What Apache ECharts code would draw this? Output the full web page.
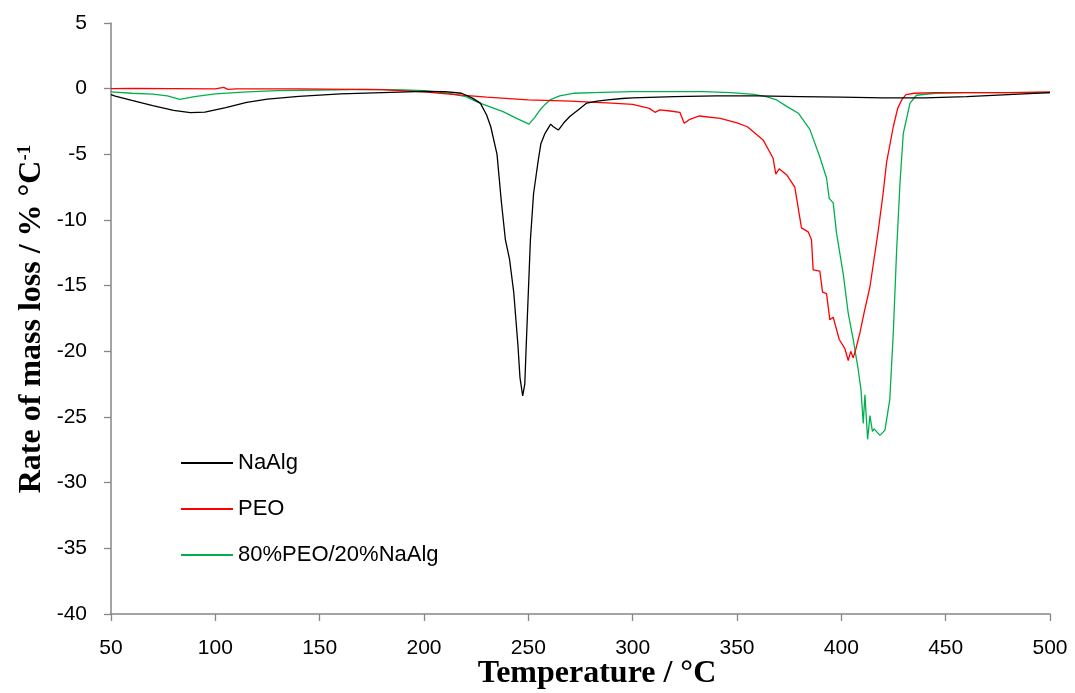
<!DOCTYPE html>
<html><head><meta charset="utf-8">
<script src="https://cdn.jsdelivr.net/npm/echarts@6/dist/echarts.min.js"></script>
<style>html,body{margin:0;padding:0;background:#fff}#c{width:1075px;height:693px}</style>
</head><body><div id="c"></div>
<script>
const seriesNames = ['NaAlg', 'PEO', '80%PEO/20%NaAlg'];
const xTicks = [50,100,150,200,250,300,350,400,450,500];
const yTicks = [5,0,-5,-10,-15,-20,-25,-30,-35,-40];

const naalgT = [50,52,60,70,80,88,95,105,115,125,140,160,180,200,210,218,223,227,230,232,235,237,239,241,243,245,246,247.3,248.3,249,250,251,252.5,254.8,256,258,260.7,262,264.4,267,270,274,278,283,288,295,300,320,340,360,380,400,420,440,460,480,500];
const naalgV = [-0.45,-0.56,-0.9,-1.3,-1.65,-1.83,-1.78,-1.45,-1.05,-0.8,-0.58,-0.4,-0.3,-0.2,-0.22,-0.35,-0.7,-1.1,-2.0,-2.9,-5.0,-8.5,-11.5,-13.0,-15.5,-19.5,-22.0,-23.4,-22.5,-19.5,-15.5,-11.5,-8.0,-5.4,-4.2,-3.4,-2.7,-2.9,-3.15,-2.6,-2.1,-1.6,-1.1,-0.95,-0.86,-0.75,-0.7,-0.6,-0.55,-0.55,-0.6,-0.65,-0.7,-0.7,-0.6,-0.45,-0.3];

const peoT = [50,60,80,100,104,106,110,140,180,200,215,230,250,270,290,300,308,310.7,313,318,322.6,324.7,327.4,332,342,350,355,362.5,367.3,368.6,370.2,374,377.7,380.9,384.1,385.7,386.5,389.7,391,392.9,394.5,396.1,399,401.7,403.3,404.5,405.7,407,408.9,411,413.7,417.7,420,421.7,424.9,427,428.9,431,435,445,460,480,500];
const peoV = [0.0,0.02,0.0,-0.02,0.1,-0.05,-0.02,-0.02,-0.08,-0.25,-0.45,-0.65,-0.86,-0.95,-1.1,-1.2,-1.5,-1.8,-1.62,-1.7,-1.8,-2.64,-2.33,-2.08,-2.26,-2.6,-2.9,-3.9,-5.3,-6.5,-6.1,-6.6,-7.5,-10.6,-10.9,-11.5,-13.8,-13.9,-15.5,-15.6,-17.6,-17.4,-19.1,-19.8,-20.7,-20.0,-20.5,-19.8,-18.6,-17.0,-15.1,-10.8,-8.0,-5.6,-2.9,-1.5,-0.86,-0.45,-0.35,-0.3,-0.3,-0.3,-0.25];

const blendT = [50,60,70,77,83,90,100,115,130,150,172,190,200,212,220,226.8,232,237.9,244.4,250.3,253,255.6,258,260.4,265,271.5,285,300,320,334,347,358,364,369,374,379.4,384.9,389.7,392.9,394.2,396.1,397.7,400.9,403.3,405.7,408.1,409.4,410.5,411.3,412.6,413.7,414.9,415.7,418.5,420.9,423.2,424.9,426.5,428.1,429.7,432.9,436,445,460,480,500];
const blendV = [-0.25,-0.35,-0.42,-0.55,-0.81,-0.6,-0.4,-0.25,-0.15,-0.1,-0.05,-0.1,-0.15,-0.35,-0.6,-1.1,-1.4,-1.75,-2.26,-2.7,-2.2,-1.62,-1.2,-0.86,-0.55,-0.35,-0.28,-0.23,-0.22,-0.23,-0.3,-0.43,-0.6,-0.86,-1.37,-1.87,-3.1,-5.2,-6.8,-8.35,-8.7,-11.0,-14.1,-17.1,-19.1,-21.4,-22.9,-25.5,-23.3,-26.7,-24.9,-26.1,-25.9,-26.4,-26.0,-23.7,-18.6,-12.3,-7.2,-3.4,-1.1,-0.5,-0.35,-0.3,-0.3,-0.3];

const zip = (a, b) => a.map((t, i) => [t, b[i]]);
const colors = ['#000000', '#ff0000', '#00b050'];
const sets = [zip(naalgT, naalgV), zip(peoT, peoV), zip(blendT, blendV)];

const chart = echarts.init(document.getElementById('c'), null, {renderer: 'canvas'});
const axisGray = '#868686';
const labelFont = {fontFamily: 'Liberation Sans', fontSize: 21, color: '#000'};
chart.setOption({
  animation: false,
  grid: {left: 111, right: 25, top: 23, bottom: 79, containLabel: false},
  xAxis: {
    type: 'value', min: 50, max: 500, interval: 50,
    axisLine: {onZero: false, lineStyle: {color: axisGray, width: 1.5}},
    axisTick: {show: true, length: 7, lineStyle: {color: axisGray, width: 1.3}},
    splitLine: {show: false},
    axisLabel: Object.assign({margin: 24, formatter: v => xTicks.includes(v) ? String(v) : ''}, labelFont)
  },
  yAxis: {
    type: 'value', min: -40, max: 5, interval: 5,
    axisLine: {show: true, onZero: false, lineStyle: {color: axisGray, width: 1.5}},
    axisTick: {show: true, length: 7, lineStyle: {color: axisGray, width: 1.3}},
    splitLine: {show: false},
    axisLabel: Object.assign({margin: 24, formatter: v => yTicks.includes(v) ? String(v) : ''}, labelFont)
  },
  legend: {
    orient: 'vertical', left: 180, top: 452, padding: 0,
    itemWidth: 52, itemHeight: 22, itemGap: 24,
    itemStyle: {opacity: 0},
    textStyle: {fontFamily: 'Liberation Sans', fontSize: 22, color: '#000'},
    data: seriesNames
  },
  series: seriesNames.map((n, i) => ({
    name: n, type: 'line', data: sets[i], symbol: 'none', showSymbol: false,
    lineStyle: {color: colors[i], width: 1.3}, itemStyle: {color: colors[i]}, z: 3 - i
  })),
  graphic: [
    {type: 'text', x: 597, y: 674, style: {text: 'Temperature / °C', font: 'bold 32px "Liberation Serif"', fill: '#000', textAlign: 'center', textVerticalAlign: 'middle'}},
    {type: 'text', x: 32, y: 319, rotation: Math.PI / 2,
     style: {text: '{m|Rate of mass loss / % °C}{s|-1}', fill: '#000', textAlign: 'center', textVerticalAlign: 'middle',
       rich: {m: {font: 'bold 32px "Liberation Serif"', color: '#000'}, s: {font: 'bold 19px "Liberation Serif"', color: '#000', verticalAlign: 'top', padding: [0,0,14,0]}}}}
  ]
});
</script></body></html>
